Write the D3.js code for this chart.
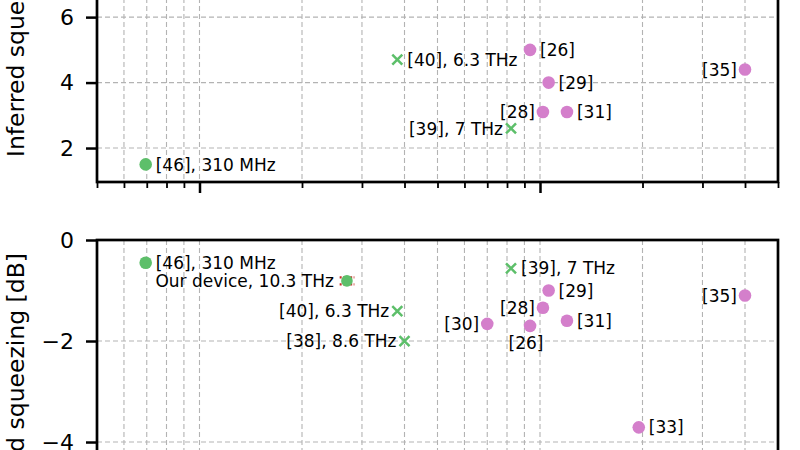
<!DOCTYPE html>
<html>
<head>
<meta charset="utf-8">
<script src="https://cdn.jsdelivr.net/npm/d3@7"></script>
<style>
  html, body { margin: 0; padding: 0; background: #fff; }
  svg { display: block; font-family: "DejaVu Sans", sans-serif; }
</style>
</head>
<body>
<svg id="chart" width="800" height="450"></svg>
<script>
// ---------------- data ----------------
const xMajorTicks = [1, 10];
const xMinorTicks = [0.5, 0.6, 0.7, 0.8, 0.9, 2, 3, 4, 5, 6, 7, 8, 9, 20, 30, 40, 50];

const topYTicks = [2, 4, 6];
const botYTicks = [0, -2, -4];

// Top panel: inferred squeezing
const topLabels = ["[46], 310 MHz", "[40], 6.3 THz", "[39], 7 THz", "[26]", "[28]", "[29]", "[31]", "[35]"];
const topX      = [0.695, 3.81, 8.22, 9.35, 10.2, 10.6, 12.0, 40];
const topY      = [1.5, 4.7, 2.6, 5.0, 3.1, 4.0, 3.1, 4.4];
const topKind   = ["green", "cross", "cross", "pink", "pink", "pink", "pink", "pink"];
const topSide   = ["right", "right", "left", "right", "left", "right", "right", "left"];

// Bottom panel: measured squeezing
const botLabels = ["[46], 310 MHz", "Our device, 10.3 THz", "[40], 6.3 THz", "[38], 8.6 THz", "[39], 7 THz",
                   "[30]", "[26]", "[28]", "[29]", "[31]", "[33]", "[35]"];
const botX      = [0.695, 2.71, 3.81, 4.0, 8.22, 7.0, 9.35, 10.2, 10.6, 12.0, 19.5, 40];
const botY      = [-0.45, -0.81, -1.41, -2.0, -0.56, -1.66, -1.70, -1.34, -1.0, -1.60, -3.71, -1.10];
const botKind   = ["green", "ours", "cross", "cross", "cross", "pink", "pink", "pink", "pink", "pink", "pink", "pink"];
const botSide   = ["right", "leftfar", "left", "left", "right", "left", "below", "left", "right", "right", "right", "left"];

// error bar for our device (x range)
const oursXErr = [2.58, 2.85];

// ---------------- layout ----------------
const GREEN = "#5dbf6a";
const PINK = "#d47fcb";
const GRID = "#b3b3b3";
const svg = d3.select("#chart");

const left = 97, right = 778;
const x = d3.scaleLog().domain([0.5, 50]).range([left, right]);

const panels = [
  { top: -138, bottom: 182, domain: [0.962, 10.74], yTicks: topYTicks,
    labels: topLabels, xs: topX, ys: topY, kind: topKind, side: topSide,
    title: "Inferred squeezing [dB]", titleAnchor: "start", titleY: 157 },
  { top: 240, bottom: 540, domain: [-5.94, 0], yTicks: botYTicks,
    labels: botLabels, xs: botX, ys: botY, kind: botKind, side: botSide,
    title: "Measured squeezing [dB]", titleAnchor: "end", titleY: 253 }
];

panels.forEach((p, pi) => {
  const y = d3.scaleLinear().domain(p.domain).range([p.bottom, p.top]);
  const g = svg.append("g");

  // grid
  const gridG = g.append("g").attr("stroke", GRID).attr("stroke-width", 1.1)
    .attr("stroke-dasharray", "5,3").attr("fill", "none");
  xMajorTicks.concat(xMinorTicks).forEach(v => {
    gridG.append("line").attr("x1", x(v)).attr("x2", x(v)).attr("y1", p.top).attr("y2", p.bottom);
  });
  p.yTicks.forEach(v => {
    gridG.append("line").attr("x1", left).attr("x2", right).attr("y1", y(v)).attr("y2", y(v));
  });

  // y axis
  const yAxis = d3.axisLeft(y).tickValues(p.yTicks).tickSize(11).tickPadding(12)
    .tickFormat(d => d < 0 ? "\u2212" + Math.abs(d) : String(d));
  const ya = g.append("g").attr("transform", `translate(${left},0)`).call(yAxis);
  ya.select(".domain").remove();
  ya.selectAll("line").attr("stroke", "#000").attr("stroke-width", 2.5);
  ya.selectAll("text").attr("font-size", 22).attr("fill", "#000")
    .attr("font-family", "DejaVu Sans");

  // x axis ticks (bottom of the panel)
  const xaMaj = g.append("g").attr("transform", `translate(0,${p.bottom})`)
    .call(d3.axisBottom(x).tickValues(xMajorTicks).tickSize(11).tickFormat(""));
  xaMaj.select(".domain").remove();
  xaMaj.selectAll("line").attr("stroke", "#000").attr("stroke-width", 2.5);
  const xaMin = g.append("g").attr("transform", `translate(0,${p.bottom})`)
    .call(d3.axisBottom(x).tickValues(xMinorTicks).tickSize(6).tickFormat(""));
  xaMin.select(".domain").remove();
  xaMin.selectAll("line").attr("stroke", "#000").attr("stroke-width", 1.8);

  // frame
  g.append("rect").attr("x", left).attr("y", p.top).attr("width", right - left)
    .attr("height", p.bottom - p.top).attr("fill", "none").attr("stroke", "#000")
    .attr("stroke-width", 2.7);

  // y title
  g.append("text").attr("transform", `translate(24,${p.titleY}) rotate(-90)`)
    .attr("text-anchor", p.titleAnchor).attr("font-size", 23.5).attr("fill", "#000")
    .text(p.title);

  // marks
  const mg = g.append("g");
  p.xs.forEach((xv, i) => {
    const cx = x(xv), cy = y(p.ys[i]);
    const k = p.kind[i];
    if (k === "green" || k === "pink") {
      mg.append("circle").attr("cx", cx).attr("cy", cy).attr("r", 6.3)
        .attr("fill", k === "green" ? GREEN : PINK);
    } else if (k === "cross") {
      const s = 5;
      mg.append("path").attr("d", `M${cx - s},${cy - s}L${cx + s},${cy + s}M${cx - s},${cy + s}L${cx + s},${cy - s}`)
        .attr("stroke", GREEN).attr("stroke-width", 2.5).attr("fill", "none");
    } else if (k === "ours") {
      const x0 = x(oursXErr[0]), x1 = x(oursXErr[1]);
      const eg = mg.append("g").attr("stroke", "#c8302a").attr("stroke-width", 2.2)
        .attr("stroke-dasharray", "2,1.5").attr("fill", "none");
      eg.append("line").attr("x1", x0).attr("x2", x1).attr("y1", cy - 3.5).attr("y2", cy - 3.5);
      eg.append("line").attr("x1", x0).attr("x2", x1).attr("y1", cy + 3.5).attr("y2", cy + 3.5);
      mg.append("circle").attr("cx", cx).attr("cy", cy).attr("r", 5.8).attr("fill", GREEN);
    }

    // annotation
    const side = p.side[i];
    const t = mg.append("text").attr("font-size", 17).attr("fill", "#000").text(p.labels[i]);
    if (side === "right") {
      t.attr("x", cx + 10).attr("y", cy).attr("dy", "0.36em").attr("text-anchor", "start");
    } else if (side === "left") {
      t.attr("x", cx - 8).attr("y", cy).attr("dy", "0.36em").attr("text-anchor", "end");
    } else if (side === "leftfar") {
      t.attr("x", cx - 13).attr("y", cy).attr("dy", "0.36em").attr("text-anchor", "end");
    } else if (side === "below") {
      t.attr("x", cx - 4).attr("y", cy + 17).attr("dy", "0.36em").attr("text-anchor", "middle");
    }
  });
});
</script>
</body>
</html>
